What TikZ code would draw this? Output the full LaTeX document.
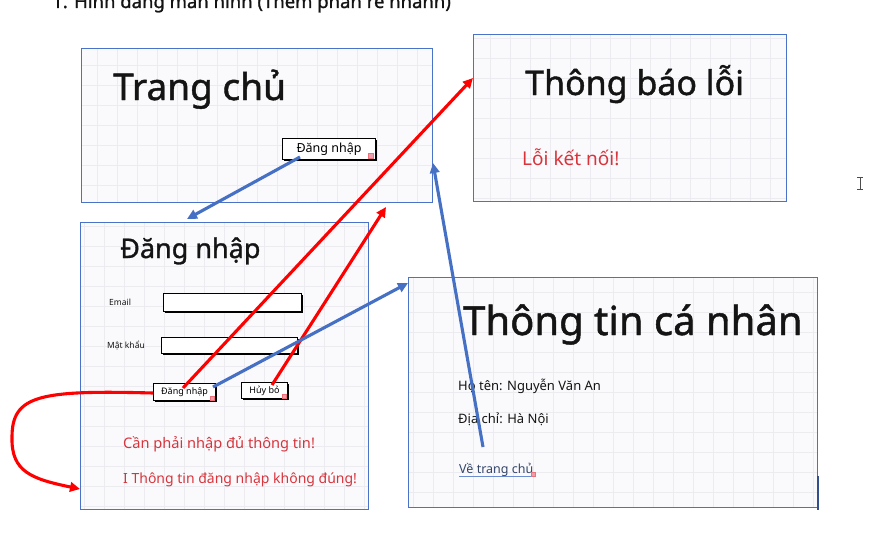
\documentclass[tikz,border=0pt]{standalone}
\usepackage{fontspec}
\setmainfont{Noto Sans}
\newfontfamily\headfont[FakeBold=1.2]{Noto Sans}
\usetikzlibrary{arrows.meta,shadows}
\definecolor{frameblue}{HTML}{4A72C8}
\definecolor{arrowblue}{HTML}{4670C4}
\definecolor{gridc}{HTML}{EBEBF0}
\definecolor{panelfill}{HTML}{FAFAFC}
\definecolor{errred}{HTML}{D8343C}
\definecolor{linkc}{HTML}{34466A}
\definecolor{iconpink}{HTML}{E8A0AC}
\definecolor{inkc}{HTML}{141414}
\begin{document}
\begin{tikzpicture}[x=1pt,y=-1pt,
  screen/.style={draw=frameblue,line width=1pt,fill=panelfill,anchor=north west,inner sep=0pt,
    path picture={\draw[gridc,line width=0.7pt] (path picture bounding box.south west) grid[step=20pt] (path picture bounding box.north east);}},
  title/.style={anchor=base west,inner sep=0pt,text=inkc},
  body/.style={anchor=base west,inner sep=0pt,text=inkc},
  errtext/.style={anchor=base west,inner sep=0pt,text=errred},
  btn/.style={draw=black,line width=1.1pt,fill=white,anchor=north west,inner sep=0pt,
    drop shadow={shadow xshift=1.6pt,shadow yshift=-1.6pt,fill=black,opacity=1}},
  field/.style={draw=black,line width=1.1pt,fill=white,anchor=north west,inner sep=0pt,
    drop shadow={shadow xshift=1.2pt,shadow yshift=-1.2pt,fill=black,opacity=1}},
  linkicon/.style={fill=iconpink,draw=iconpink!70!red,line width=0.3pt,inner sep=0pt,minimum size=5pt},
  bluearrow/.style={draw=arrowblue,line width=3.1pt,-{Triangle[length=10pt,width=9.5pt]}},
  redarrow/.style={draw=red,line width=3.1pt,-{Triangle[length=10pt,width=9.5pt]}}]
\clip (0,0) rectangle (891,535);
\fill[white] (0,0) rectangle (891,535);

% cut-off heading
\node[anchor=base west,inner sep=0pt,text=inkc,font=\headfont\fontsize{18.5}{22}\selectfont] (pagetitle) at (52,8) {1. Hình dáng màn hình (Thêm phần rẽ nhánh)};

% Home screen
\node[screen,minimum width=351pt,minimum height=154pt] (home) at (81,48) {};
\node[title,font=\headfont\fontsize{37}{40}\selectfont] (hometitle) at (113,100) {Trang chủ};
\node[btn,minimum width=93pt,minimum height=21pt,font=\fontsize{12.5}{14}\selectfont] (hbtn) at (282,138) {Đăng nhập};
\node[linkicon] (hicon) at (371,156) {};

% Login screen
\node[screen,minimum width=288pt,minimum height=287pt] (login) at (80,222) {};
\node[title,font=\headfont\fontsize{27}{30}\selectfont] (logintitle) at (120,258) {Đăng nhập};
\node[body,font=\fontsize{8.5}{10}\selectfont] (emaillbl) at (109,305) {Email};
\node[field,minimum width=138pt,minimum height=18pt] (emailfld) at (163,293) {};
\node[body,font=\fontsize{8.5}{10}\selectfont] (pwlbl) at (107,348) {Mật khẩu};
\node[field,minimum width=136pt,minimum height=16pt] (pwfld) at (161,337) {};
\node[btn,minimum width=62pt,minimum height=17pt,font=\fontsize{9}{10}\selectfont] (lbtn) at (153,383) {Đăng nhập};
\node[linkicon,minimum size=4.5pt] (licon) at (212,398) {};
\node[btn,minimum width=46pt,minimum height=16pt,font=\fontsize{9}{10}\selectfont] (cbtn) at (241,382) {Hủy bỏ};
\node[linkicon,minimum size=4.5pt] (cicon) at (284,396) {};
\node[errtext,font=\fontsize{14.6}{18}\selectfont] (err1) at (123,448) {Cần phải nhập đủ thông tin!};
\node[errtext,font=\fontsize{14}{18}\selectfont] (err2) at (123,483) {I Thông tin đăng nhập không đúng!};

% Error screen
\node[screen,minimum width=313pt,minimum height=167pt] (errbox) at (473,34) {};
\node[title,font=\headfont\fontsize{34}{38}\selectfont] (errtitle) at (525,95) {Thông báo lỗi};
\node[errtext,font=\fontsize{19}{22}\selectfont] (errmsg) at (522,165) {Lỗi kết nối!};

% Profile screen
\node[screen,minimum width=409pt,minimum height=230pt] (profile) at (408,277) {};
\node[title,font=\headfont\fontsize{40}{44}\selectfont] (proftitle) at (463,335) {Thông tin cá nhân};
\node[body,font=\fontsize{13}{15}\selectfont] (pname) at (458,390) {Họ tên: Nguyễn Văn An};
\node[body,font=\fontsize{13}{15}\selectfont] (paddr) at (458,423) {Địa chỉ: Hà Nội};
\node[anchor=base west,inner sep=0pt,text=linkc,font=\fontsize{12.5}{15}\selectfont] (homelink) at (459,473) {Về trang chủ};
\draw[arrowblue!80,line width=1pt] ([yshift=-3pt]homelink.base west) -- ([yshift=-3pt]homelink.base east);
\node[linkicon,minimum size=4.5pt] (picon) at (533,474) {};
\draw[frameblue!70!black,line width=1.5pt] (818,476) -- (818,510);

% text cursor
\draw[gray!60!black,line width=1pt] (860,177) -- (860,189) (857,177) -- (863,177) (857,189) -- (863,189);

% connector end points
\coordinate (b1s) at (300,157);
\coordinate (b1e) at (187,219);
\coordinate (b2s) at (213,387);
\coordinate (b2e) at (408,283);
\coordinate (b3s) at (483,447);
\coordinate (b3e) at (433,163);
\coordinate (r1s) at (183,388);
\coordinate (r1e) at (473,78);
\coordinate (r2s) at (272,385);
\coordinate (r2e) at (386,207);
\coordinate (r3s) at (153,393);
\coordinate (r3m) at (12,437);
\coordinate (r3e) at (80,489);

% connectors
\draw[bluearrow] (b1s) -- (b1e);
\draw[redarrow] (r1s) -- (r1e);
\draw[redarrow] (r2s) -- (r2e);
\draw[bluearrow] (b2s) -- (b2e);
\draw[bluearrow] (b3s) -- (b3e);
\draw[redarrow] (r3s) .. controls (40,390) and (12,395) .. (r3m) .. controls (11,472) and (32,479) .. (r3e);
\end{tikzpicture}
\end{document}
